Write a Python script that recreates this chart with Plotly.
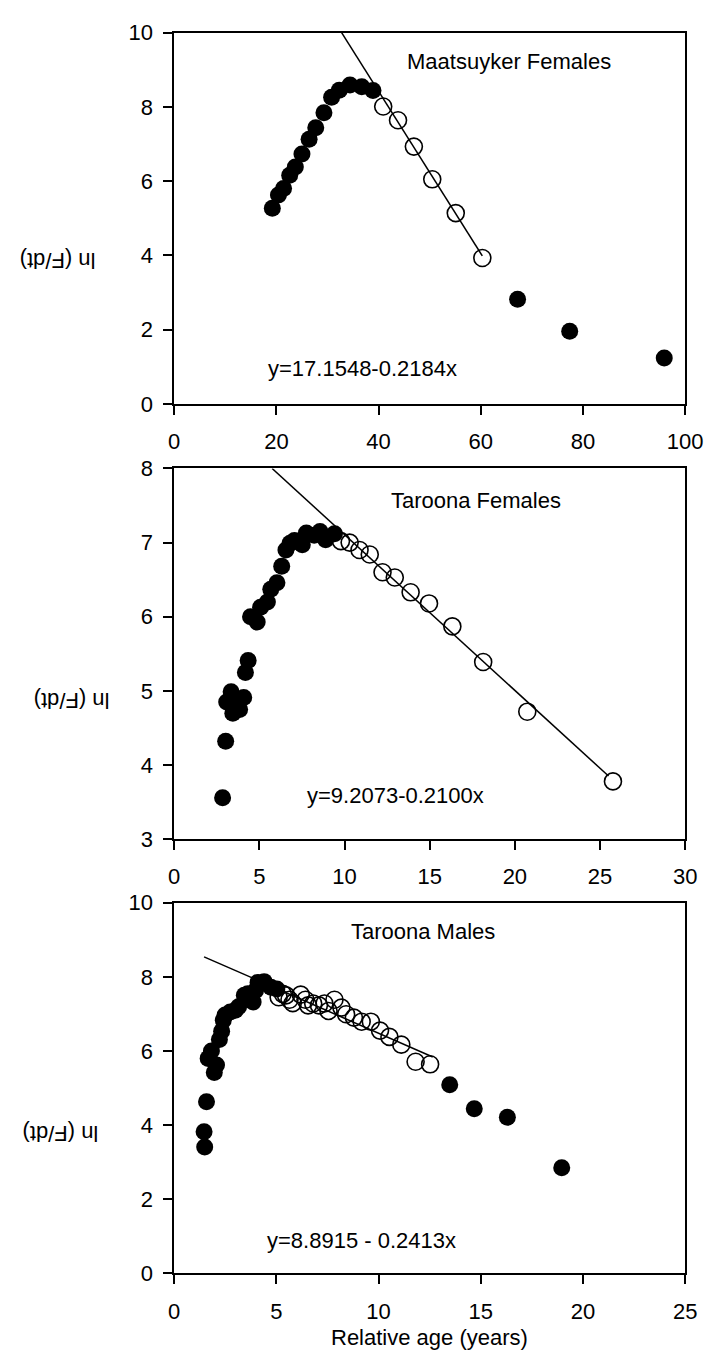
import plotly.graph_objects as go

FONT = "Arial, Liberation Sans, sans-serif"

# ---------------- Data ----------------
# Panel 1: Maatsuyker Females
maat_fill_x = [19.2, 20.4, 21.4, 22.6, 23.7, 25.0, 26.4, 27.7, 29.3, 30.8, 32.3, 34.4, 36.7, 38.9,
               67.2, 77.4, 95.9]
maat_fill_y = [5.27, 5.63, 5.80, 6.16, 6.38, 6.73, 7.13, 7.44, 7.84, 8.26, 8.45, 8.59, 8.54, 8.44,
               2.82, 1.96, 1.24]
maat_open_x = [40.9, 43.8, 46.9, 50.5, 55.1, 60.3]
maat_open_y = [8.01, 7.64, 6.93, 6.05, 5.14, 3.93]
maat_fit = (17.1548, -0.2184)
maat_fit_x = [32.0, 60.3]

# Panel 2: Taroona Females
tf_fill_x = [2.84, 3.02, 3.08, 3.34, 3.58, 3.44, 3.84, 4.08, 4.18, 4.34, 4.48, 4.87, 5.07, 5.47,
             5.67, 6.03, 6.31, 6.56, 6.80, 7.06, 7.52, 7.76, 8.22, 8.56, 8.89, 9.41]
tf_fill_y = [3.56, 4.32, 4.85, 4.99, 4.83, 4.70, 4.75, 4.91, 5.25, 5.41, 6.00, 5.93, 6.13, 6.20,
             6.37, 6.46, 6.68, 6.90, 6.99, 7.03, 6.97, 7.13, 7.10, 7.15, 7.04, 7.12]
tf_open_x = [9.79, 10.30, 10.88, 11.48, 12.23, 12.95, 13.88, 14.96, 16.33, 18.14, 20.73, 25.76]
tf_open_y = [7.02, 7.00, 6.90, 6.84, 6.60, 6.53, 6.33, 6.18, 5.87, 5.39, 4.72, 3.78]
tf_fit = (9.2073, -0.2100)
tf_fit_x = [5.5, 25.5]

# Panel 3: Taroona Males
tm_fill_x = [1.49, 1.46, 1.58, 1.66, 1.82, 2.07, 1.96, 2.21, 2.32, 2.40, 2.49, 2.74, 2.99, 3.15,
             3.43, 3.60, 3.86, 3.98, 4.10, 4.40, 4.73, 5.02,
             13.48, 14.68, 16.30, 18.96]
tm_fill_y = [3.41, 3.82, 4.63, 5.80, 6.00, 5.62, 5.42, 6.31, 6.53, 6.83, 6.97, 7.05, 7.10, 7.19,
             7.50, 7.54, 7.32, 7.63, 7.85, 7.87, 7.72, 7.67,
             5.09, 4.44, 4.21, 2.85]
tm_open_x = [5.11, 5.31, 5.47, 5.64, 5.80, 6.19, 6.42, 6.55, 6.80, 7.08, 7.35, 7.55, 7.84, 8.18,
             8.41, 8.79, 9.17, 9.62, 10.07, 10.53, 11.11, 11.81, 12.52]
tm_open_y = [7.45, 7.54, 7.50, 7.38, 7.29, 7.52, 7.38, 7.23, 7.28, 7.23, 7.28, 7.08, 7.38, 7.17,
             6.99, 6.90, 6.79, 6.79, 6.55, 6.38, 6.17, 5.71, 5.64]
tm_fit = (8.8915, -0.2413)
tm_fit_x = [1.46, 12.65]

titles = ["Maatsuyker Females", "Taroona Females", "Taroona Males"]
equations = ["y=17.1548-0.2184x", "y=9.2073-0.2100x", "y=8.8915 - 0.2413x"]
x_ranges = [(0, 100), (0, 30), (0, 25)]
x_dticks = [20, 5, 5]
y_ranges = [(0, 10), (3, 8), (0, 10)]
y_dticks = [2, 1, 2]
y_label = "ln (F/dt)"
x_label = "Relative age (years)"

# ---------------- Layout geometry ----------------
W, H = 723, 1363
left_px, right_px = 174, 702.5
panels_px = [(21, 399.3), (465, 842.7), (907.3, 1285)]
title_pos = [(65.6, 9.23), (17.7, 7.57), (12.19, 9.21)]
eq_pos = [(36.8, 0.96), (13.0, 3.59), (9.17, 0.88)]
ylab_px = [(53, 253), (68, 702), (56, 1143)]

panels = [
    (maat_fill_x, maat_fill_y, maat_open_x, maat_open_y, maat_fit, maat_fit_x),
    (tf_fill_x, tf_fill_y, tf_open_x, tf_open_y, tf_fit, tf_fit_x),
    (tm_fill_x, tm_fill_y, tm_open_x, tm_open_y, tm_fit, tm_fit_x),
]

fig = go.Figure()
annotations = []
layout = {}
MS = 17

for i, (fx, fy, ox, oy, fit, fitx) in enumerate(panels):
    n = "" if i == 0 else str(i + 1)
    xa, ya = "x" + n, "y" + n
    a, b = fit
    ymax = y_ranges[i][1]
    x0 = max(fitx[0], (ymax - a) / b)
    lx = [x0, fitx[1]]
    ly = [a + b * v for v in lx]
    fig.add_trace(go.Scatter(x=lx, y=ly, mode="lines", line=dict(color="black", width=1.5),
                             xaxis=xa, yaxis=ya, showlegend=False, hoverinfo="skip"))
    fig.add_trace(go.Scatter(x=fx, y=fy, mode="markers",
                             marker=dict(symbol="circle", size=MS, color="black",
                                         line=dict(width=0)),
                             xaxis=xa, yaxis=ya, showlegend=False, cliponaxis=False))
    fig.add_trace(go.Scatter(x=ox, y=oy, mode="markers",
                             marker=dict(symbol="circle-open", size=MS, color="black",
                                         line=dict(width=1.6, color="black")),
                             xaxis=xa, yaxis=ya, showlegend=False, cliponaxis=False))

    top, bot = panels_px[i]
    axis_common = dict(showline=True, linecolor="black", linewidth=1.6, mirror=True,
                       ticks="outside", ticklen=9, tickwidth=1.6, tickcolor="black",
                       showgrid=False, zeroline=False,
                       tickfont=dict(family=FONT, size=22, color="black"))
    layout["xaxis" + n] = dict(axis_common, domain=[left_px / W, right_px / W],
                               range=list(x_ranges[i]), dtick=x_dticks[i], tick0=0,
                               anchor=ya, ticklabelstandoff=8)
    layout["yaxis" + n] = dict(axis_common, domain=[1 - bot / H, 1 - top / H],
                               range=list(y_ranges[i]), dtick=y_dticks[i], tick0=0,
                               anchor=xa, ticklabelstandoff=6)

    annotations.append(dict(x=title_pos[i][0], y=title_pos[i][1], xref=xa, yref=ya,
                            text=titles[i], showarrow=False,
                            font=dict(family=FONT, size=22, color="black"),
                            xanchor="center", yanchor="middle"))
    annotations.append(dict(x=eq_pos[i][0], y=eq_pos[i][1], xref=xa, yref=ya,
                            text=equations[i], showarrow=False,
                            font=dict(family=FONT, size=22, color="black"),
                            xanchor="center", yanchor="middle"))
    annotations.append(dict(x=ylab_px[i][0] / W, y=1 - ylab_px[i][1] / H, xref="paper",
                            yref="paper", text=y_label, showarrow=False, textangle=180,
                            font=dict(family=FONT, size=22, color="black"),
                            xanchor="center", yanchor="middle"))

annotations.append(dict(x=(left_px + right_px) / 2 / W, y=1 - 1350 / H, xref="paper",
                        yref="paper", text=x_label, showarrow=False,
                        font=dict(family=FONT, size=22, color="black"),
                        xanchor="center", yanchor="middle"))

fig.update_layout(width=W, height=H, margin=dict(l=0, r=0, t=0, b=0),
                  paper_bgcolor="white", plot_bgcolor="white",
                  showlegend=False, annotations=annotations, **layout)

fig.write_html("out.html", config={"displayModeBar": False},
               post_script="document.body.style.margin='0';"
                           "document.body.style.overflow='hidden';")
